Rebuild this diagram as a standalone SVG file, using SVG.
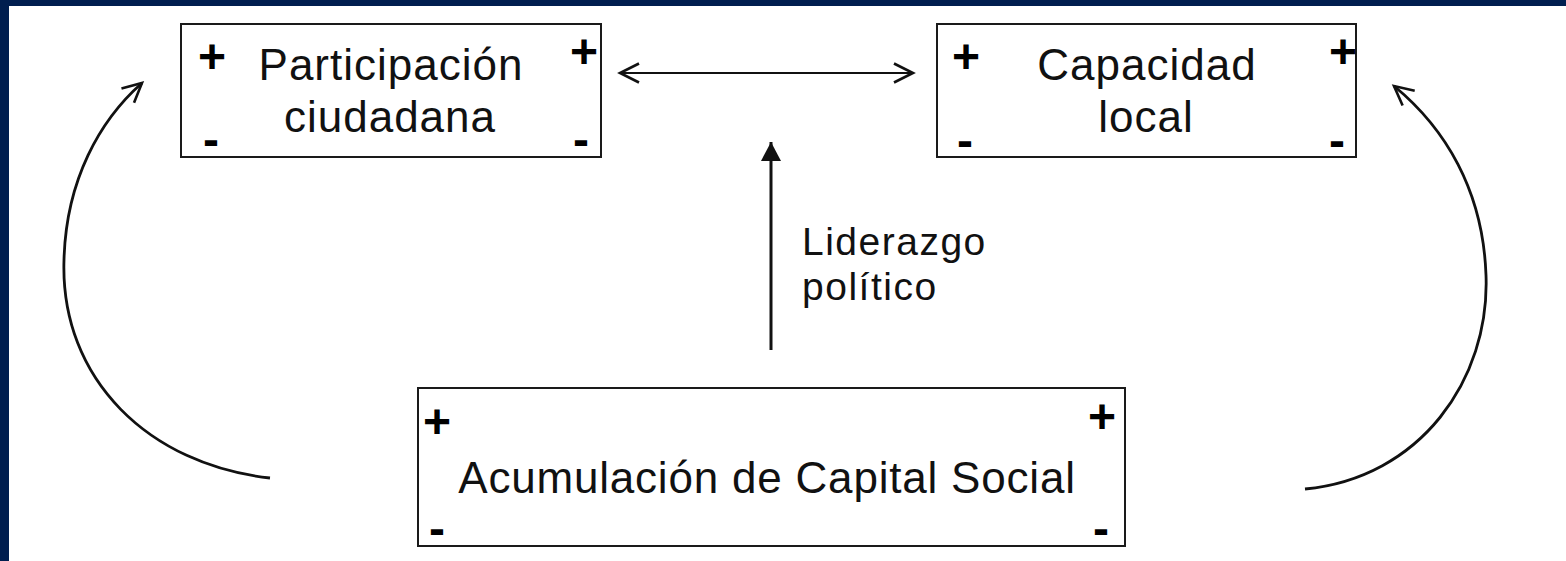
<svg xmlns="http://www.w3.org/2000/svg" width="1566" height="561" viewBox="0 0 1566 561">
<style>
.box{fill:#fff;stroke:#1a1a1a;stroke-width:2}
.lbl{font-family:"Liberation Sans",Arial,sans-serif;font-size:44px;fill:#111;text-anchor:middle;letter-spacing:1px}
.sign{font-family:"Liberation Sans",Arial,sans-serif;font-weight:bold;fill:#000;text-anchor:middle}
.plus{font-size:48px}
.minus{font-size:48px}
.edge{fill:none;stroke:#111;stroke-width:2.8}
.note{font-family:"Liberation Sans",Arial,sans-serif;font-size:39px;fill:#111;letter-spacing:1.5px}
</style>
<defs>
<marker id="open" viewBox="-24 -13 28 26" refX="0" refY="0" markerWidth="28" markerHeight="26" markerUnits="userSpaceOnUse" orient="auto-start-reverse">
<path d="M-19,-9.5 L0,0 L-19,9.5" fill="none" stroke="#111" stroke-width="2.6"/>
</marker>
<marker id="solid" viewBox="-24 -13 28 26" refX="0" refY="0" markerWidth="28" markerHeight="26" markerUnits="userSpaceOnUse" orient="auto">
<path d="M-19,-10 L0,0 L-19,10 Z" fill="#111"/>
</marker>
</defs>
<rect x="0" y="0" width="1566" height="561" fill="#fff"/>
<rect x="0" y="0" width="1566" height="6" fill="#001e4f"/>
<rect x="0" y="0" width="9" height="561" fill="#001e4f"/>

<g id="participacion">
<rect class="box" x="181" y="24" width="420" height="133"/>
<text class="lbl" x="391" y="80">Participación</text>
<text class="lbl" x="390" y="132">ciudadana</text>
<text class="sign plus" x="212" y="73">+</text>
<text class="sign plus" x="584" y="68">+</text>
<text class="sign minus" x="211" y="156">-</text>
<text class="sign minus" x="581" y="156">-</text>
</g>

<g id="capacidad">
<rect class="box" x="937" y="24" width="419" height="133"/>
<text class="lbl" x="1147" y="80">Capacidad</text>
<text class="lbl" x="1146" y="132">local</text>
<text class="sign plus" x="966" y="73">+</text>
<text class="sign plus" x="1343" y="68">+</text>
<text class="sign minus" x="965" y="157">-</text>
<text class="sign minus" x="1337" y="157">-</text>
</g>

<g id="acumulacion">
<rect class="box" x="418" y="388" width="707" height="158"/>
<text class="lbl" x="767" y="493" style="letter-spacing:0.8px">Acumulación de Capital Social</text>
<text class="sign plus" x="437" y="438">+</text>
<text class="sign plus" x="1102" y="433">+</text>
<text class="sign minus" x="437" y="545">-</text>
<text class="sign minus" x="1101" y="545">-</text>
</g>

<g id="connectors">
<line class="edge" x1="620" y1="73" x2="913" y2="73" style="stroke-width:2.2" marker-start="url(#open)" marker-end="url(#open)"/>
<line class="edge" x1="771" y1="350" x2="771" y2="142" style="stroke-width:3" marker-end="url(#solid)"/>
<path class="edge" d="M270,478 C150,465 60,380 64,260 C66,180 100,120 142,83" marker-end="url(#open)"/>
<path class="edge" d="M1305,489 C1420,478 1490,380 1486,275 C1483,190 1445,128 1394,86" marker-end="url(#open)"/>
</g>

<g id="label-liderazgo">
<text class="note" x="802" y="255">Liderazgo</text>
<text class="note" x="802" y="300">político</text>
</g>
</svg>
